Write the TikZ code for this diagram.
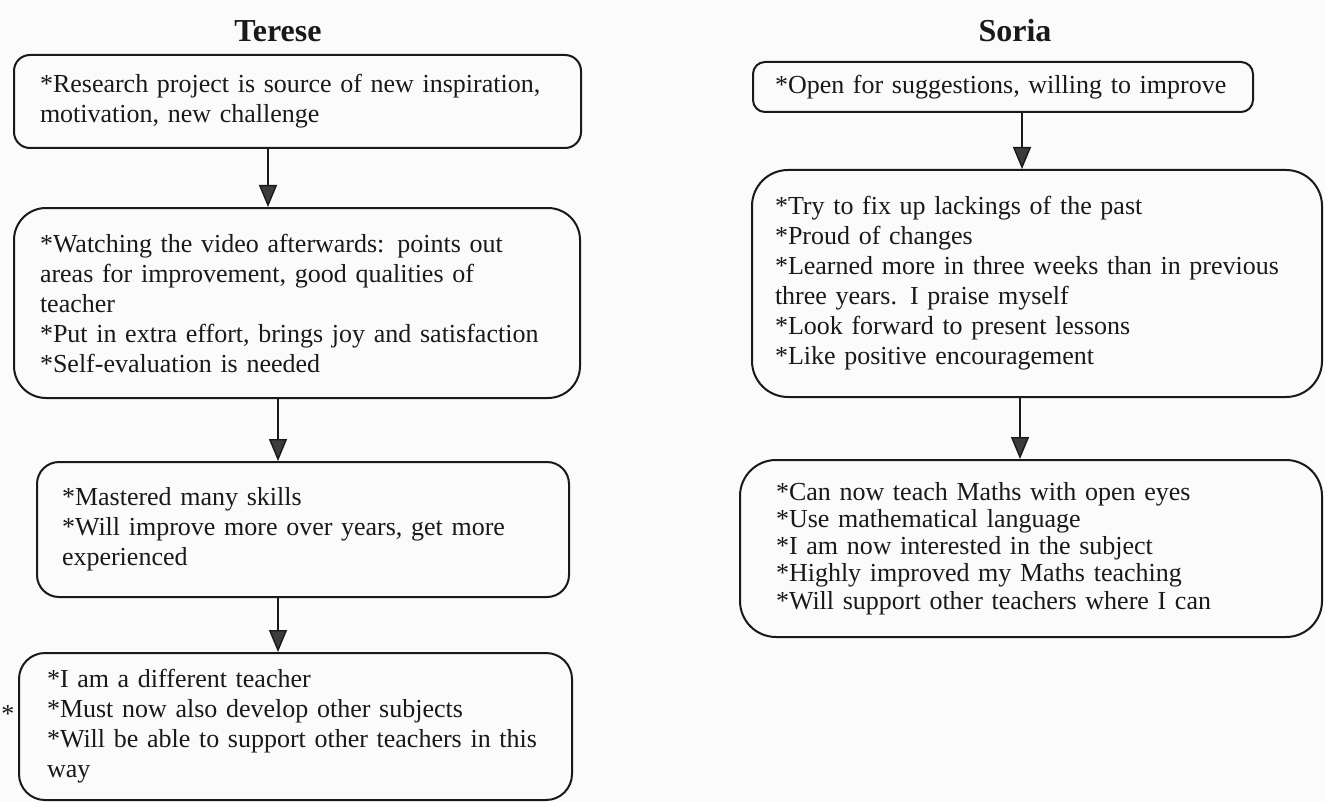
\documentclass[tikz,border=0pt]{standalone}
\usepackage{fontspec}
\setmainfont{Liberation Serif}
\usetikzlibrary{arrows.meta}
\definecolor{ink}{RGB}{25,25,25}
\definecolor{paper}{RGB}{251,251,251}
\definecolor{headgray}{RGB}{60,60,60}
\tikzset{
  notebox/.style={draw=ink, line width=1pt, align=left, inner ysep=0pt, text=ink, font=\fontsize{13}{15}\selectfont},
  flow/.style={draw=ink, line width=0.7pt, -{Triangle[length=11pt,width=9pt,fill=headgray]}},
  heading/.style={text=ink, font=\fontsize{16}{18}\selectfont\bfseries}
}
\begin{document}
\begin{tikzpicture}[x=0.5pt,y=-0.5pt]
            \fill[paper] (0,0) rectangle (1325,802);
            \useasboundingbox (0,0) rectangle (1325,802);
            \node[heading] (terese) at (278,31)  {Terese};
            \node[heading] (soria)  at (1015,31) {Soria};
            \node[notebox, rounded corners=8pt,  inner xsep=13pt,   text width=257.5pt, minimum height=46.5pt]  (t1) at (297.5,101.5) {*Research project is source of new inspiration,\\motivation, new challenge};
            \node[notebox, rounded corners=16pt, inner xsep=13pt,   text width=257pt,   minimum height=95pt]    (t2) at (297,303)     {*Watching the video afterwards: points out\\areas for improvement, good qualities of\\teacher\\{}*Put in extra effort, brings joy and satisfaction\\{}*Self-evaluation is needed};
            \node[notebox, rounded corners=11pt, inner xsep=12.5pt, text width=241pt,   minimum height=67.5pt]  (t3) at (303,529.5)   {*Mastered many skills\\{}*Will improve more over years, get more\\experienced};
            \node[notebox, rounded corners=13pt, inner xsep=14pt,   text width=248.5pt, minimum height=73.5pt]  (t4) at (295.5,726.5) {*I am a different teacher\\{}*Must now also develop other subjects\\{}*Will be able to support other teachers in this\\way};
            \node[text=ink, font=\fontsize{13}{15}\selectfont] (stray) at (8,714) {*};
            \node[notebox, rounded corners=6pt,  inner xsep=11pt,   text width=228pt,   minimum height=25pt]    (s1) at (1003,87)     {*Open for suggestions, willing to improve};
            \node[notebox, rounded corners=18pt, inner xsep=11.5pt, text width=262pt,   minimum height=113.5pt] (s2) at (1037,283.5)  {*Try to fix up lackings of the past\\{}*Proud of changes\\{}*Learned more in three weeks than in previous\\three years. I praise myself\\{}*Look forward to present lessons\\{}*Like positive encouragement};
            \node[notebox, rounded corners=18pt, inner xsep=18pt,   text width=255pt,   minimum height=88.5pt, font=\fontsize{13}{13.6}\selectfont] (s3) at (1031,548.5) {*Can now teach Maths with open eyes\\{}*Use mathematical language\\{}*I am now interested in the subject\\{}*Highly improved my Maths teaching\\{}*Will support other teachers where I can};
            \draw[flow] ([xshift=-14.75pt]t1.south) -- ([xshift=-14.75pt]t1.south |- t2.north);
            \draw[flow] ([xshift=-9.5pt]t2.south)   -- ([xshift=-9.5pt]t2.south |- t3.north);
            \draw[flow] ([xshift=-12.5pt]t3.south)  -- ([xshift=-12.5pt]t3.south |- t4.north);
            \draw[flow] ([xshift=9.5pt]s1.south)    -- ([xshift=9.5pt]s1.south |- s2.north);
            \draw[flow] ([xshift=-8.5pt]s2.south)   -- ([xshift=-8.5pt]s2.south |- s3.north);
\end{tikzpicture}
\end{document}
